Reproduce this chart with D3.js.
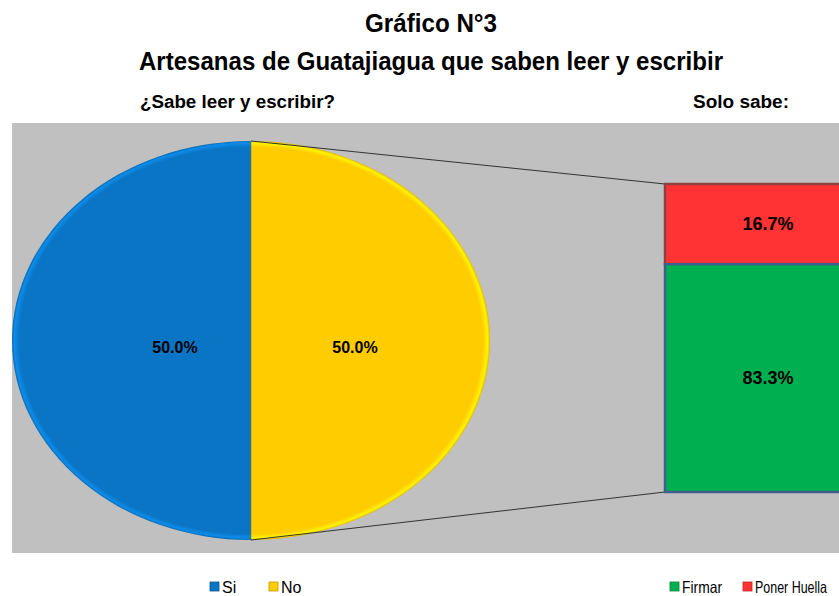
<!DOCTYPE html>
<html>
<head>
<meta charset="utf-8">
<script src="https://cdn.jsdelivr.net/npm/d3@7"></script>
<style>
  body { margin: 0; background: #fff; }
  svg { display: block; }
  text { font-family: "Liberation Sans", Arial, sans-serif; }
</style>
</head>
<body>
<div id="chart"></div>
<script>
// datos
const categoriasPie = ["Si", "No"];
const valoresPie = [50.0, 50.0];
const categoriasBarra = ["Poner Huella", "Firmar"];
const valoresBarra = [16.7, 83.3];
const coloresPie = ["#0A75C5", "#FFCC00"];
const coloresBarra = ["#FF3333", "#00B050"];
const bordesBarra = ["#8E4040", "#3F5E8E"];

const width = 839, height = 596;

const svg = d3.select("#chart").append("svg")
  .attr("width", width)
  .attr("height", height);

const defs = svg.append("defs");

// texto comprimido al ancho del original
function texto(x, y, t, size, largo, anchor) {
  const el = svg.append("text")
    .attr("x", x).attr("y", y)
    .attr("text-anchor", anchor || "start")
    .style("font-size", size + "px")
    .text(t);
  if (largo) {
    el.attr("textLength", largo).attr("lengthAdjust", "spacingAndGlyphs");
  }
  return el;
}

// titulo
texto(431, 32, "Gráfico N°3", 26, 132, "middle").style("font-weight", "bold");
texto(431, 70, "Artesanas de Guatajiagua que saben leer y escribir", 26, 584, "middle").style("font-weight", "bold");
texto(140, 108, "¿Sabe leer y escribir?", 17.5, 195).style("font-weight", "bold");
texto(693, 108, "Solo sabe:", 17.5, 96).style("font-weight", "bold");

// area de trazado
svg.append("rect")
  .attr("x", 12).attr("y", 123)
  .attr("width", width - 12).attr("height", 430)
  .attr("fill", "#C0C0C0");

// pie (elipse)
const cx = 251, cy = 340.5, rx = 239, ry = 199.5;

const pie = d3.pie().sort(null)
  .startAngle(Math.PI).endAngle(3 * Math.PI);
const arcos = pie(valoresPie);
const arc = d3.arc().innerRadius(0).outerRadius(ry);

coloresPie.forEach((c, i) => {
  const g = defs.append("radialGradient")
    .attr("id", "bisel" + i)
    .attr("gradientUnits", "userSpaceOnUse")
    .attr("cx", 0).attr("cy", 0).attr("r", ry);
  g.append("stop").attr("offset", "0.97").attr("stop-color", c);
  g.append("stop").attr("offset", "0.99").attr("stop-color", d3.color(c).brighter(0.5));
  g.append("stop").attr("offset", "1").attr("stop-color", d3.color(c).darker(0.3));
});

const gPie = svg.append("g")
  .attr("transform", `translate(${cx},${cy}) scale(${rx / ry},1)`);

gPie.selectAll("path")
  .data(arcos)
  .enter()
  .append("path")
  .attr("d", arc)
  .attr("fill", (d, i) => `url(#bisel${i})`);

// linea divisoria
gPie.append("line")
  .attr("x1", 0).attr("y1", -ry).attr("x2", 0).attr("y2", ry)
  .attr("stroke", "#7A6A30").attr("stroke-width", 0.8).attr("opacity", 0.5);

const etiquetasX = [175, 355];
svg.selectAll(".etPie")
  .data(arcos)
  .enter()
  .append("text")
  .attr("class", "etPie")
  .attr("x", (d, i) => etiquetasX[i])
  .attr("y", 353)
  .attr("text-anchor", "middle")
  .style("font-size", "16px").style("font-weight", "bold")
  .text(d => d.data.toFixed(1) + "%");

// barra apilada (arriba: Poner Huella)
const barX = 665, barW = 206;
const y = d3.scalePow().exponent(0.752).domain([0, 100]).range([184, 492]);

let acumulado = 0;
const pilas = valoresBarra.map((v, i) => {
  const p = { y0: acumulado, y1: acumulado + v, i: i, v: v };
  acumulado += v;
  return p;
});

// lineas de conexion
svg.append("line")
  .attr("x1", cx).attr("y1", cy - ry)
  .attr("x2", barX).attr("y2", y(0))
  .attr("stroke", "#333").attr("stroke-width", 1);
svg.append("line")
  .attr("x1", cx).attr("y1", cy + ry)
  .attr("x2", barX).attr("y2", y(100))
  .attr("stroke", "#333").attr("stroke-width", 1);

svg.selectAll(".seg")
  .data(pilas)
  .enter()
  .append("rect")
  .attr("class", "seg")
  .attr("x", barX)
  .attr("y", d => y(d.y0))
  .attr("width", barW)
  .attr("height", d => y(d.y1) - y(d.y0))
  .attr("fill", d => coloresBarra[d.i])
  .attr("stroke", d => bordesBarra[d.i])
  .attr("stroke-width", 2.5);

svg.selectAll(".etBarra")
  .data(pilas)
  .enter()
  .append("text")
  .attr("class", "etBarra")
  .attr("x", 768)
  .attr("y", d => (y(d.y0) + y(d.y1)) / 2 + 6)
  .attr("text-anchor", "middle")
  .style("font-size", "18px").style("font-weight", "bold")
  .text(d => d.v.toFixed(1) + "%");

// leyendas
function leyenda(items, colores, xs, size, largos) {
  items.forEach((t, i) => {
    svg.append("rect")
      .attr("x", xs[i]).attr("y", 582)
      .attr("width", 9).attr("height", 9)
      .attr("fill", colores[i])
      .attr("stroke", d3.color(colores[i]).darker(0.8))
      .attr("stroke-width", 0.8);
    texto(xs[i] + 12, 593, t, size, largos ? largos[i] : null);
  });
}
leyenda(categoriasPie, coloresPie, [210, 269], 16);
leyenda(["Firmar", "Poner Huella"], ["#00B050", "#FF3333"], [670, 743], 16.5, [40, 72]);
</script>
</body>
</html>
